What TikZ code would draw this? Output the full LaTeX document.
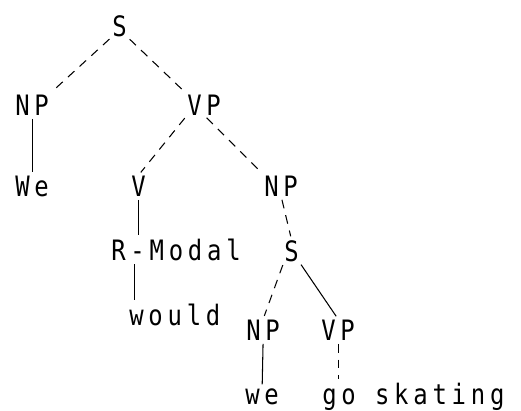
\documentclass[tikz,border=0pt]{standalone}
\usepackage{fontspec}
\newfontfamily\typewriter[FakeStretch=0.85,LetterSpace=17]{DejaVu Sans Mono}
\tikzset{every node/.style={inner sep=0pt,anchor=base west,font=\typewriter\fontsize{16}{18}\selectfont},
         branch/.style={line width=0.6pt,shorten <=2pt,shorten >=2pt},
         broken/.style={branch,dash pattern=on 5pt off 4pt},
         }
\begin{document}
\begin{tikzpicture}[x=0.02cm,y=-0.02cm]
		\useasboundingbox (0,0) rectangle (521,410);
		\node (s1) at (112,36) {S};
		\node (np1) at (15,115) {NP};
		\node (vp1) at (187,115) {VP};
		\node (we1) at (15,196) {We};
		\node (v1) at (131,196) {V};
		\node (np2) at (264,196) {NP};
		\node (rmod) at (111,260) {R-Modal};
		\node (s2) at (284,261) {S};
		\node (would) at (129,325) {would};
		\node (np3) at (246,340) {NP};
		\node (vp2) at (321,340) {VP};
		\node (we2) at (245,404) {we};
		\node (go) at (322,404) {go skating};
		\draw[broken] (s1.south west) -- (np1.north east);
		\draw[broken] (s1.south east) -- (vp1.north west);
		\draw[branch] (np1.south) -- (we1.north);
		\draw[broken] (vp1.south west) -- (v1.north);
		\draw[broken] (vp1.south) -- (np2.north west);
		\draw[broken] (np2.south) -- (s2.north);
		\draw[branch] (v1.south) -- (v1.south |- rmod.north);
		\draw[branch] ([xshift=3]would.north west |- rmod.south) -- ([xshift=3]would.north west);
		\draw[broken] (s2.south west) -- (np3.north);
		\draw[branch] (s2.south east) -- (vp2.north);
		\draw[branch] (np3.south) -- (we2.north);
		\draw[broken] (vp2.south) -- (vp2.south |- go.north);
\end{tikzpicture}
\end{document}
